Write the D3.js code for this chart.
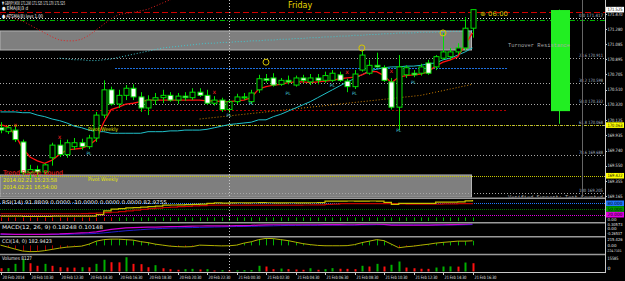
<!DOCTYPE html>
<html>
<head>
<meta charset="utf-8">
<script src="https://cdn.jsdelivr.net/npm/d3@7"></script>
<style>
body { margin: 0; background: #000; }
svg { display: block; }
text { font-family: "DejaVu Sans", sans-serif; }
</style>
</head>
<body>
<script>
// ---- data ----
var timeLabels = ["20 Feb 2014","20 Feb 10:30","20 Feb 12:30","20 Feb 14:30","20 Feb 16:30","20 Feb 18:30","20 Feb 20:30","20 Feb 22:30","21 Feb 00:30","21 Feb 02:30","21 Feb 04:30","21 Feb 06:30","21 Feb 08:30","21 Feb 10:30","21 Feb 12:30","21 Feb 14:30","21 Feb 16:30"];

var openP  = [170.03,169.98,170.00,169.85,169.46,169.50,169.47,169.65,169.81,169.69,169.79,169.84,169.79,169.90,170.19,170.51,170.33,170.44,170.53,170.42,170.28,170.38,170.41,170.44,170.38,170.43,170.41,170.48,170.44,170.34,170.38,170.26,170.36,170.42,170.36,170.51,170.65,170.66,170.58,170.63,170.57,170.66,170.61,170.66,170.63,170.63,170.70,170.62,170.55,170.76,170.72,170.82,170.79,170.61,170.29,170.70,170.72,170.72,170.85,170.80,170.91,170.93,170.99,171.04,171.29];
var highP  = [170.10,170.05,170.07,169.88,169.56,169.55,169.58,169.84,169.88,169.88,169.90,169.89,169.94,170.23,170.63,170.55,170.51,170.57,170.58,170.48,170.44,170.47,170.51,170.48,170.47,170.48,170.53,170.53,170.51,170.43,170.41,170.38,170.46,170.47,170.51,170.70,170.71,170.72,170.66,170.69,170.69,170.70,170.71,170.71,170.74,170.76,170.74,170.65,170.76,171.01,170.89,170.98,170.82,170.66,170.95,170.82,170.76,170.84,170.89,170.95,171.23,171.04,171.10,171.43,171.525];
var lowP   = [169.96,169.95,169.85,169.43,169.37,169.41,169.43,169.55,169.66,169.65,169.75,169.75,169.76,169.85,170.15,170.31,170.28,170.38,170.38,170.23,170.19,170.32,170.34,170.36,170.33,170.37,170.38,170.42,170.32,170.31,170.23,170.22,170.33,170.38,170.33,170.47,170.60,170.55,170.56,170.58,170.55,170.60,170.57,170.58,170.60,170.61,170.61,170.48,170.52,170.74,170.70,170.79,170.61,170.26,170.00,170.66,170.67,170.69,170.70,170.76,170.89,170.89,170.96,171.01,171.17];
var closeP = [170.00,170.03,169.88,169.46,169.50,169.47,169.56,169.81,169.69,169.84,169.84,169.79,169.90,170.19,170.51,170.33,170.44,170.53,170.42,170.28,170.38,170.41,170.44,170.38,170.43,170.41,170.48,170.44,170.34,170.38,170.26,170.36,170.42,170.41,170.47,170.65,170.63,170.57,170.63,170.61,170.66,170.63,170.66,170.63,170.69,170.72,170.63,170.55,170.71,170.95,170.82,170.80,170.63,170.29,170.80,170.79,170.70,170.80,170.72,170.93,170.99,170.99,171.04,171.29,171.525];

var volumes = [3200,3300,7500,12100,8100,5600,7500,5600,4200,3900,3800,4200,4100,7500,11500,9100,9000,14000,7500,7200,4200,6200,3200,2300,1700,2300,2600,2000,2300,1000,1300,1000,1100,1300,1400,5600,4900,2300,2900,2300,2000,1700,3200,1700,2300,3300,2700,2600,2300,5600,4900,7500,4900,6600,9800,3900,3200,2700,2600,3900,4900,5000,4800,8800,8127];

var maFast = [170.07,170.04,169.94,169.77,169.66,169.61,169.58,169.62,169.69,169.75,169.76,169.77,169.81,169.88,170.10,170.26,170.29,170.33,170.34,170.36,170.38,170.38,170.38,170.38,170.38,170.38,170.38,170.38,170.37,170.37,170.36,170.36,170.37,170.38,170.41,170.52,170.55,170.57,170.58,170.60,170.61,170.61,170.60,170.61,170.62,170.63,170.65,170.66,170.67,170.70,170.74,170.74,170.69,170.60,170.67,170.69,170.70,170.71,170.74,170.81,170.86,170.89,170.93,171.08,171.23];
var maSlow = [170.23,170.23,170.23,170.22,170.22,170.19,170.17,170.14,170.12,170.09,170.05,170.03,170.00,169.98,169.98,169.96,169.96,169.96,169.96,169.96,169.98,169.98,169.98,169.99,169.99,170.00,170.00,170.00,170.01,170.03,170.05,170.07,170.08,170.09,170.10,170.13,170.13,170.17,170.20,170.24,170.28,170.32,170.36,170.41,170.46,170.51,170.56,170.61,170.65,170.70,170.75,170.77,170.79,170.80,170.80,170.81,170.81,170.82,170.84,170.85,170.89,170.91,170.95,170.99,171.04];
var bandUpper = [171.47,171.44,171.41,171.38,171.33,171.28,171.23,171.18,171.14,171.13,171.13,171.15,171.20,171.27,171.34,171.41,171.46,171.48,171.49,171.51,171.53,171.57,171.61,171.65,171.68];
// cyan dotted envelope, starts at bar 8
var envUpper = [170.91,170.90,170.89,170.89,170.88,170.88,170.89,170.90,170.92,170.94,170.96,170.98,171.00,171.02,171.04,171.05,171.06,171.07,171.08,171.09,171.10,171.10,171.11,171.11,171.12,171.12,171.13,171.13,171.14,171.14,171.15,171.15,171.16,171.16,171.17,171.17,171.18,171.18,171.19,171.19,171.20,171.20,171.21,171.21,171.22,171.22,171.23,171.23,171.23,171.24,171.24,171.24,171.25,171.25,171.25,171.25,171.26];
// orange dotted lower envelope, starts at bar 27
var envLower = [170.14,170.15,170.16,170.17,170.18,170.19,170.20,170.21,170.22,170.23,170.24,170.25,170.26,170.27,170.28,170.29,170.30,170.31,170.32,170.33,170.34,170.35,170.36,170.37,170.38,170.39,170.40,170.41,170.42,170.43,170.44,170.46,170.48,170.50,170.52,170.54,170.56,170.58];

// chart markers: [bar, price]
var pivotMarks = [[36, 170.86], [49, 171.04], [60, 171.23]];
var crossMarks = [[2, 170.07], [8, 169.91], [29, 170.48], [47, 170.74], [53, 170.75]];
var plMarks = [[12, 169.71], [31, 170.19], [34, 170.34], [39, 170.47], [45, 170.57], [48, 170.47], [54, 170.00], [56, 170.61]];

var rsiMain   = [12,12,12,11,11,11,11,12,12,12,12,12,13,20,40,49,52,56,57,60,62,65,70,71,72,73,74,76,80,82,81,82,83,82,83,84,83,82,82,83,82,82,83,84,91,91,91,92,91,91,92,91,85,74,80,80,80,80,80,86,86,86,88,93,97];
var rsiSignal = [25,25,25,25,25,25,25,25,25,25,25,26,27,29,31,33,36,40,44,48,52,55,58,60,62,64,66,68,70,70,70,70,70,70,70,70,70,70,70,70,70,71,72,72,74,76,78,78,78,78,78,78,78,78,77,76,76,76,76,76,77,77,78,78,79];

var macdMain   = [-0.24,-0.25,-0.26,-0.27,-0.27,-0.27,-0.26,-0.25,-0.24,-0.22,-0.2,-0.18,-0.16,-0.12,-0.05,0.02,0.06,0.1,0.12,0.13,0.14,0.15,0.16,0.17,0.18,0.19,0.2,0.21,0.22,0.22,0.22,0.22,0.23,0.23,0.24,0.26,0.27,0.28,0.28,0.28,0.28,0.28,0.28,0.28,0.29,0.29,0.29,0.28,0.28,0.3,0.31,0.31,0.3,0.26,0.26,0.26,0.26,0.26,0.26,0.27,0.28,0.29,0.3,0.32,0.34];
var macdSignal = [-0.27,-0.27,-0.27,-0.27,-0.27,-0.27,-0.27,-0.27,-0.27,-0.26,-0.25,-0.24,-0.23,-0.21,-0.18,-0.14,-0.1,-0.06,-0.03,0.0,0.03,0.05,0.07,0.09,0.1,0.11,0.12,0.13,0.14,0.15,0.16,0.17,0.18,0.18,0.19,0.2,0.21,0.22,0.23,0.24,0.24,0.25,0.25,0.25,0.26,0.26,0.26,0.26,0.26,0.27,0.27,0.28,0.28,0.28,0.27,0.27,0.27,0.27,0.26,0.26,0.26,0.27,0.27,0.28,0.29];

var cciVals = [10,-70,-150,-225,-250,-245,-210,-160,-110,-70,-50,-30,50,170,230,250,250,230,210,150,110,50,10,-30,-50,-60,-50,10,0,-10,-20,-15,10,90,145,230,280,270,230,190,130,70,30,0,-15,-15,-15,-10,30,110,170,230,190,50,-95,-55,-30,10,45,90,120,145,170,170,183];

var priceTicks = [171.470,171.280,171.085,170.895,170.705,170.510,170.320,170.125,169.935,169.740,169.550,169.355,169.165];
var fibNames  = ["0.0","23.6","38.2","50.0","61.8","78.6","100"];
var fibPrices = [171.417,170.911,170.598,170.332,170.068,169.688,169.205];
var zoneTop = [171.255, 171.014];
var zoneBottom = [169.432, 169.150];
var dayCandle = { open: 170.24, high: 171.525, low: 170.08, close: 171.52 };

// ---- layout ----
var W = 625, H = 281, plotR = 605;
var svg = d3.select("body").append("svg")
	.attr("width", W)
	.attr("height", H)
	.style("background", "#000");

var x = d3.scaleLinear().domain([0, 64]).range([0.5, 472.5]);
var y = d3.scaleLinear().domain([171.647, 169.153]).range([0, 197]);
var yRsi = d3.scaleLinear().domain([0, 100]).range([218.5, 199.5]);
var yMacd = d3.scaleLinear().domain([-0.3, 0.35]).range([235, 223.5]);
var yCci = d3.scaleLinear().domain([-224.71, 215.426]).range([251, 240]);
var yVol = d3.scaleLinear().domain([0, 15700]).range([271.5, 255.5]);

var defs = svg.append("defs");
function clip(id, y0, y1){
	defs.append("clipPath").attr("id", id)
		.append("rect").attr("x", 0).attr("y", y0).attr("width", plotR).attr("height", y1 - y0);
	return svg.append("g").attr("clip-path", "url(#" + id + ")");
}

var main = clip("cMain", 0, 197.5);
var pRsi = clip("cRsi", 199, 222);
var pMacd = clip("cMacd", 223.5, 236);
var pCci = clip("cCci", 237.5, 254);
var pVol = clip("cVol", 255, 272);

function hline(g, yy, x0, x1, col, dash, w){
	g.append("line")
		.attr("x1", x0).attr("x2", x1)
		.attr("y1", Math.round(yy) + 0.5).attr("y2", Math.round(yy) + 0.5)
		.attr("stroke", col).attr("stroke-width", w || 1)
		.attr("stroke-dasharray", dash);
}

// small text squeezed to the width it has in the screenshot
function txt(g, tx, ty, s, col, size, len, anchor, fam){
	var t = g.append("text")
		.attr("x", tx).attr("y", ty)
		.attr("fill", col)
		.attr("font-size", size)
		.attr("text-anchor", anchor || "start")
		.style("font-family", fam || null)
		.text(s);
	if (len) t.attr("textLength", len).attr("lengthAdjust", "spacingAndGlyphs");
	return t;
}

// zones
[zoneTop, zoneBottom].forEach(function(z){
	main.append("rect")
		.attr("x", 0).attr("width", x(64) - 1)
		.attr("y", y(z[0])).attr("height", y(z[1]) - y(z[0]))
		.attr("fill", "#7f7f7f")
		.attr("stroke", "#b4b4b4").attr("stroke-width", 1);
});

// horizontal levels
hline(main, y(171.495), 0, plotR, "#d00000", "6,3");
fibPrices.forEach(function(p, i){
	hline(main, y(p), 0, plotR, i == 0 ? "#e0e0e0" : "#a8a8a8", "1,2");
});
hline(main, y(171.394), 0, plotR, "#00b000", "5,2,1,2");
hline(main, y(170.78), 115, 508, "#1e70e0", "2,1");
hline(main, y(170.25), 0, 508, "#b00000", "2,2");
hline(main, y(170.063), 0, plotR, "#c8c800", "1,1");
hline(main, y(169.422), 0, plotR, "#c8c800", "1,1");

// day separator and right guide
svg.append("line")
	.attr("x1", 229.5).attr("x2", 229.5).attr("y1", 0).attr("y2", 272)
	.attr("stroke", "#c8c8c8").attr("stroke-dasharray", "1,2");
svg.append("line")
	.attr("x1", 582.5).attr("x2", 582.5).attr("y1", 0).attr("y2", 197)
	.attr("stroke", "#666");

// higher timeframe candle
main.append("line")
	.attr("x1", 559.5).attr("x2", 559.5)
	.attr("y1", y(dayCandle.high)).attr("y2", y(dayCandle.low))
	.attr("stroke", "#22e022");
main.append("rect")
	.attr("x", 551).attr("width", 19)
	.attr("y", y(dayCandle.close)).attr("height", y(dayCandle.open) - y(dayCandle.close))
	.attr("fill", "#22ee22");

// bands and moving averages
function lineFrom(start){
	return d3.line().x(function(d, i){ return x(i + start); }).y(function(d){ return y(d); });
}
main.append("path").datum(bandUpper).attr("d", lineFrom(0))
	.attr("fill", "none").attr("stroke", "#e02020").attr("stroke-dasharray", "1,2");
main.append("path").datum(envUpper).attr("d", lineFrom(8))
	.attr("fill", "none").attr("stroke", "#40c8d0").attr("stroke-dasharray", "1,2");
main.append("path").datum(envLower).attr("d", lineFrom(27))
	.attr("fill", "none").attr("stroke", "#d08000").attr("stroke-dasharray", "1,2");
main.append("path").datum(maSlow).attr("d", lineFrom(0))
	.attr("fill", "none").attr("stroke", "#20c0c8").attr("stroke-width", 1);
main.append("path").datum(maFast).attr("d", lineFrom(0))
	.attr("fill", "none").attr("stroke", "#ff1010").attr("stroke-width", 1.3);

// candles
var bars = d3.range(openP.length);
main.selectAll("line.wick").data(bars).enter().append("line")
	.attr("class", "wick")
	.attr("x1", function(i){ return Math.round(x(i)) + 0.5; })
	.attr("x2", function(i){ return Math.round(x(i)) + 0.5; })
	.attr("y1", function(i){ return y(highP[i]); })
	.attr("y2", function(i){ return y(lowP[i]); })
	.attr("stroke", "#00e000");
main.selectAll("rect.body").data(bars).enter().append("rect")
	.attr("class", "body")
	.attr("x", function(i){ return Math.round(x(i)) - 2; })
	.attr("width", 5)
	.attr("y", function(i){ return y(Math.max(openP[i], closeP[i])); })
	.attr("height", function(i){ return Math.max(1, Math.abs(y(openP[i]) - y(closeP[i]))); })
	.attr("fill", function(i){ return closeP[i] >= openP[i] ? "#000" : "#fff"; })
	.attr("stroke", "#00e000").attr("stroke-width", 1);

// markers
main.selectAll("circle.pv").data(pivotMarks).enter().append("circle")
	.attr("cx", function(d){ return x(d[0]); })
	.attr("cy", function(d){ return y(d[1]); })
	.attr("r", 3)
	.attr("fill", "none").attr("stroke", "#d8c800").attr("stroke-width", 1);
main.selectAll("text.cx").data(crossMarks).enter().append("text")
	.attr("x", function(d){ return x(d[0]); })
	.attr("y", function(d){ return y(d[1]) + 2; })
	.attr("text-anchor", "middle").attr("font-size", 6).attr("fill", "#ff2020")
	.text("x");
main.selectAll("text.pl").data(plMarks).enter().append("text")
	.attr("x", function(d){ return x(d[0]); })
	.attr("y", function(d){ return y(d[1]) + 2; })
	.attr("text-anchor", "middle").attr("font-size", 4.5).attr("fill", "#40c0d0")
	.text("PL");

// texts in main
txt(main, 2, 4.5, "\u25BC GBPJPY,M30 171.290 171.525 171.170 171.525", "#f0f0f0", 5, 63);
txt(main, 2, 10, "\u25CF EMA(8)3 d", "#f0f0f0", 5, 26);
txt(main, 2, 18, "\u25CF ATSMA(8) levs 1.00", "#f0f0f0", 5, 41);
txt(main, 300, 8, "Friday", "#e8d800", 8, null, "middle");
txt(main, 480, 15.5, "\u2295 06:00", "#d8c000", 6.5, 28);
txt(main, 508, 47, "Turnover Resistance", "#a8a8a8", 5.5, 62, "start", "Liberation Mono");
txt(main, 508, 198.5, "Verified Support: Test Counted", "#a8a8a8", 5.5, 95, "start", "Liberation Mono");
txt(main, 3, 175, "Trend Range Bound", "#ff2020", 6.5, 60);
txt(main, 3, 182, "2014.02.21 15:23:58", "#e8e800", 5.5, 54);
txt(main, 3, 189, "2014.02.21 16:54:00", "#e8e800", 5.5, 54);
txt(main, 88, 181, "Pivot Weekly", "#e8e800", 5, 30);
txt(main, 88, 131, "Pivot Weekly", "#e8e800", 5, 30);
fibPrices.forEach(function(p, i){
	txt(main, 603, y(p) - 1, fibNames[i] + " " + p.toFixed(3), "#a8b8c8", 4.5, 24, "end");
});

// RSI panel
hline(pRsi, yRsi(80), 0, plotR, "#1e78ff", "1,1");
hline(pRsi, yRsi(50), 0, plotR, "#007000", "1,1");
hline(pRsi, yRsi(20), 0, plotR, "#e000e0", "1,1");
var lineR = d3.line().x(function(d, i){ return x(i); }).y(function(d){ return yRsi(d); }).curve(d3.curveStepAfter);
pRsi.append("path").datum(rsiSignal).attr("d", lineR).attr("fill", "none").attr("stroke", "#c00000").attr("stroke-width", 1.2);
pRsi.append("path").datum(rsiMain).attr("d", lineR).attr("fill", "none").attr("stroke", "#c8c000").attr("stroke-width", 1.2);
pRsi.selectAll("line.mk").data(rsiMain).enter().append("line")
	.attr("x1", function(d, i){ return Math.round(x(i)) + 0.5; })
	.attr("x2", function(d, i){ return Math.round(x(i)) + 0.5; })
	.attr("y1", 217.5).attr("y2", 221)
	.attr("stroke", function(d){ return d >= 50 ? "#00b000" : "#e00000"; });
txt(pRsi, 2, 204, "RSI(14) 91.8809 0.0000 -10.0000 0.0000 0.0000 82.9755", "#e8e8e8", 5, 165);

// MACD panel
var lineM = d3.line().x(function(d, i){ return x(i); }).y(function(d){ return yMacd(d); });
pMacd.append("path").datum(macdSignal).attr("d", lineM).attr("fill", "none").attr("stroke", "#2020d0").attr("stroke-width", 1);
pMacd.append("path").datum(macdMain).attr("d", lineM).attr("fill", "none").attr("stroke", "#d000d0").attr("stroke-width", 1.2);
txt(pMacd, 2, 228.5, "MACD(12, 26, 9) 0.18248 0.10148", "#e8e8e8", 5, 101);

// CCI panel
pCci.selectAll("line.h").data(cciVals).enter().append("line")
	.attr("x1", function(d, i){ return Math.round(x(i)) + 0.5; })
	.attr("x2", function(d, i){ return Math.round(x(i)) + 0.5; })
	.attr("y1", yCci(0))
	.attr("y2", function(d){ return yCci(d); })
	.attr("stroke", function(d){ return d >= 0 ? "#00b000" : "#b00000"; });
var lineC = d3.line().x(function(d, i){ return x(i); }).y(function(d){ return yCci(d); });
pCci.append("path").datum(cciVals).attr("d", lineC).attr("fill", "none").attr("stroke", "#b0b000").attr("stroke-width", 1);
txt(pCci, 2, 242.5, "CCI(14, 0) 182.9423", "#e8e8e8", 5, 50);

// Volume panel
pVol.selectAll("line.v").data(volumes).enter().append("line")
	.attr("x1", function(d, i){ return Math.round(x(i)) + 0.5; })
	.attr("x2", function(d, i){ return Math.round(x(i)) + 0.5; })
	.attr("y1", yVol(0))
	.attr("y2", function(d){ return yVol(d); })
	.attr("stroke", function(d, i){ return (i > 0 && d > volumes[i - 1]) ? "#00b000" : "#ff1010"; })
	.attr("stroke-width", 2);
txt(pVol, 2, 259.5, "Volumes 8127", "#e8e8e8", 5, 30);

// panel separators and frame
[198.25, 222.75, 236.75, 254.5].forEach(function(s){
	svg.append("line").attr("x1", 0).attr("x2", plotR).attr("y1", s).attr("y2", s)
		.attr("stroke", "#9a9a9a").attr("stroke-width", 1.5);
});
svg.append("line").attr("x1", plotR + 0.5).attr("x2", plotR + 0.5).attr("y1", 0).attr("y2", 272.5).attr("stroke", "#c8c8c8");
svg.append("line").attr("x1", 0).attr("x2", plotR + 1).attr("y1", 272.5).attr("y2", 272.5).attr("stroke", "#c8c8c8");

// price axis
var ax = svg.append("g");
priceTicks.forEach(function(p){
	ax.append("line").attr("x1", plotR).attr("x2", plotR + 2).attr("y1", Math.round(y(p)) + 0.5).attr("y2", Math.round(y(p)) + 0.5).attr("stroke", "#c8c8c8");
	txt(ax, 607.5, y(p) + 1.6, p.toFixed(3), "#e0e0e0", 4.5, 15);
});
function tag(yy, s, bg, fg){
	ax.append("rect").attr("x", 606).attr("y", yy - 2.8).attr("width", 18).attr("height", 5.6).attr("fill", bg);
	txt(ax, 607.5, yy + 1.6, s, fg, 4.5, 15);
}
tag(y(171.525), "171.525", "#ffffff", "#000");
tag(y(170.063), "170.063", "#ffff00", "#000");
tag(y(169.422), "169.422", "#ffff00", "#000");
tag(yRsi(80), "80.000", "#1e78ff", "#000");
tag(yRsi(50), "50.000", "#00a000", "#000");
tag(yRsi(20), "20.000", "#e000e0", "#000");
txt(ax, 607.5, 221, "0.00", "#e0e0e0", 4, 9);
txt(ax, 607.5, 226, "0.30573", "#e0e0e0", 4, 15);
txt(ax, 607.5, 230, "0.00", "#e0e0e0", 4, 9);
txt(ax, 607, 234.5, "-0.26537", "#e0e0e0", 4, 15);
txt(ax, 607.5, 241, "215.426", "#e0e0e0", 4, 15);
txt(ax, 607.5, 246.5, "0.00", "#e0e0e0", 4, 9);
txt(ax, 606.5, 252, "-224.7101", "#e0e0e0", 3.6, 15);
txt(ax, 607.5, 260, "15585", "#e0e0e0", 4.5, 11);
txt(ax, 607.5, 270, "0", "#e0e0e0", 4.5, 3);

// time axis
timeLabels.forEach(function(s, k){
	var tx = Math.round(x(k * 4)) + 0.5;
	ax.append("line").attr("x1", tx).attr("x2", tx).attr("y1", 272).attr("y2", 275).attr("stroke", "#c8c8c8");
	txt(ax, tx + 1, 279, s, "#e8e8e8", 4.5, 22);
});
</script>
</body>
</html>
